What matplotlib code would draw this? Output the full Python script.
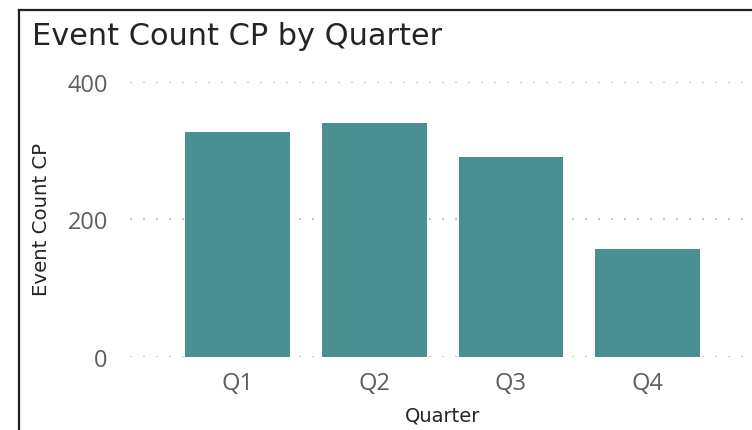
import matplotlib
matplotlib.use('Agg')
import matplotlib.pyplot as plt
from matplotlib.lines import Line2D

quarters = ['Q1', 'Q2', 'Q3', 'Q4']
event_count = [327, 340, 290, 157]
y_ticks = [0, 200, 400]

W, H = 752, 431
fig = plt.figure(figsize=(W / 100, H / 100), dpi=100)

# axes placed in pixel terms of the reference
ax = fig.add_axes([130 / W, 1 - 357.7 / H, 1 - 130 / W, (357.7 - 82.7) / H])
x = range(len(quarters))
ax.bar(x, event_count, width=0.766, color='#4A9093', zorder=3)
ax.set_xlim(-0.785, 3.763)
ax.set_ylim(0, 400)
ax.set_yticks(y_ticks)
ax.set_xticks(list(x))
ax.set_xticklabels(quarters)
for s in ax.spines.values():
    s.set_visible(False)
ax.yaxis.grid(True, color='#C4C4C4', linewidth=1.44, linestyle=(0, (1, 5.5)),
              dash_capstyle='butt', zorder=0)
ax.tick_params(length=0, labelsize=17, labelcolor='#605E5C')
ax.tick_params(axis='y', pad=16)
ax.tick_params(axis='x', pad=10)
for lab in ax.get_xticklabels() + ax.get_yticklabels():
    lab.set_family('Open Sans')

fig.text(32 / W, 1 - 45 / H, 'Event Count CP by Quarter', fontsize=21.9,
         family='DejaVu Sans', color='#252423', va='baseline', ha='left')
fig.text(42 / W, 1 - 220 / H, 'Event Count CP', fontsize=14.2, family='DejaVu Sans',
         color='#252423', rotation=90, va='center', ha='center')
fig.text(443 / W, 1 - 416 / H, 'Quarter', fontsize=14, family='DejaVu Sans',
         color='#252423', va='center', ha='center')

# card border (left and top edges visible)
fig.add_artist(Line2D([18.5 / W, 18.5 / W], [0, 1 - 11 / H], color='#222222', linewidth=1.6,
                      transform=fig.transFigure))
fig.add_artist(Line2D([18.5 / W, 1], [1 - 11 / H, 1 - 11 / H], color='#222222', linewidth=1.6,
                      transform=fig.transFigure))

fig.savefig('out.png', dpi=100)
